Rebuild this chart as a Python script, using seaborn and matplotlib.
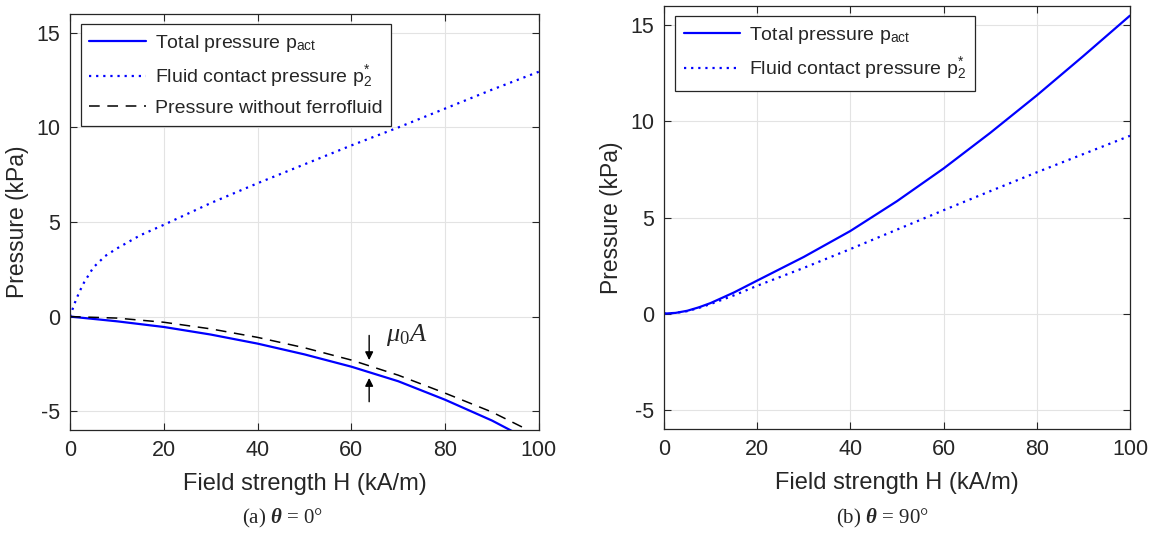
import matplotlib
matplotlib.use("Agg")
import matplotlib.pyplot as plt
import seaborn as sns
import pandas as pd

# ---- data ----
# Panel (a) theta = 0
h_a_fluid = [0, 1, 2, 3, 5, 7.5, 10, 15, 20, 30, 40, 50, 60, 70, 80, 90, 100]
p_a_fluid = [0, 0.7, 1.3, 1.8, 2.6, 3.2, 3.6, 4.3, 4.85, 6.0, 7.05, 8.05, 9.05, 10.0, 11.0, 12.0, 12.95]
h_a_total = [0, 10, 20, 30, 40, 50, 60, 70, 80, 90, 95]
p_a_total = [0, -0.25, -0.55, -0.95, -1.43, -2.0, -2.65, -3.42, -4.4, -5.5, -6.15]
h_a_noff = [0, 10, 20, 30, 40, 50, 60, 70, 80, 90, 97.7]
p_a_noff = [0, -0.08, -0.3, -0.65, -1.1, -1.65, -2.3, -3.1, -4.05, -5.05, -6.0]

# Panel (b) theta = 90
h_b = [0, 2.5, 5, 7.5, 10, 15, 20, 30, 40, 50, 60, 70, 80, 90, 100]
p_b_total = [0, 0.04, 0.15, 0.33, 0.55, 1.1, 1.72, 2.95, 4.3, 5.85, 7.55, 9.4, 11.35, 13.4, 15.5]
p_b_fluid = [0, 0.04, 0.13, 0.3, 0.5, 0.95, 1.45, 2.38, 3.36, 4.37, 5.38, 6.37, 7.35, 8.3, 9.25]

x_ticks = [0, 20, 40, 60, 80, 100]
y_ticks = [-5, 0, 5, 10, 15]
y_ticklabels = ["-5", "0", "5", "10", "15"]

lbl_total = r"Total pressure p$_{\mathsf{act}}$"
lbl_fluid = r"Fluid contact pressure p$_{\mathsf{2}}^{\mathsf{*}}$"
lbl_noff = "Pressure without ferrofluid"
caption_a = r"(a) $\mathbf{\theta}$ = 0°"
caption_b = r"(b) $\mathbf{\theta}$ = 90°"
annot_text = r"$\mu_0 A$"

# ---- style ----
sns.set_style("whitegrid")
plt.rcParams["font.family"] = ["Liberation Sans", "DejaVu Sans"]
plt.rcParams["mathtext.fontset"] = "custom"
plt.rcParams["mathtext.rm"] = "Liberation Serif"
plt.rcParams["mathtext.it"] = "Liberation Serif:italic"
plt.rcParams["mathtext.bf"] = "Liberation Serif:bold:italic"
plt.rcParams["mathtext.sf"] = "Liberation Sans"

BLUE = "#0000ff"
fig = plt.figure(figsize=(11.6, 5.33), dpi=100)
ax1 = fig.add_axes([0.0603, 0.1932, 0.4043, 0.7805])
ax2 = fig.add_axes([0.5724, 0.1951, 0.4017, 0.7936])

df_a_total = pd.DataFrame({"H": h_a_total, "p": p_a_total})
df_a_fluid = pd.DataFrame({"H": h_a_fluid, "p": p_a_fluid})
df_a_noff = pd.DataFrame({"H": h_a_noff, "p": p_a_noff})
df_b_total = pd.DataFrame({"H": h_b, "p": p_b_total})
df_b_fluid = pd.DataFrame({"H": h_b, "p": p_b_fluid})

sns.lineplot(data=df_a_total, x="H", y="p", ax=ax1, color=BLUE, lw=1.6, label=lbl_total)
sns.lineplot(data=df_a_fluid, x="H", y="p", ax=ax1, color=BLUE, lw=1.6, ls=(0, (1, 2.2)), label=lbl_fluid)
sns.lineplot(data=df_a_noff, x="H", y="p", ax=ax1, color="black", lw=1.1, ls=(0, (7, 5)), label=lbl_noff)

sns.lineplot(data=df_b_total, x="H", y="p", ax=ax2, color=BLUE, lw=1.6, label=lbl_total)
sns.lineplot(data=df_b_fluid, x="H", y="p", ax=ax2, color=BLUE, lw=1.6, ls=(0, (1, 2.2)), label=lbl_fluid)

for ax in (ax1, ax2):
    ax.set_xlim(0, 100)
    ax.set_ylim(-6, 16)
    ax.set_xticks(x_ticks)
    ax.set_yticks(y_ticks)
    ax.set_yticklabels(y_ticklabels)
    ax.set_xlabel("Field strength H (kA/m)", fontsize=17, labelpad=9)
    ax.set_ylabel("Pressure (kPa)", fontsize=16.5, labelpad=5)
    ax.tick_params(axis="both", which="both", direction="in", length=5, width=0.8,
                   labelsize=15.5, top=True, right=True, bottom=True, left=True,
                   color="#262626", pad=7)
    ax.grid(True, color="#e3e3e3", lw=0.8)
    for sp in ax.spines.values():
        sp.set_color("#262626")
        sp.set_linewidth(0.9)
        sp.set_visible(True)
    ax.set_facecolor("white")

leg_kw = dict(loc="upper left", borderaxespad=0, fontsize=14, frameon=True, fancybox=False,
              edgecolor="#262626", framealpha=1, handlelength=2.9, labelspacing=0.5,
              handletextpad=0.45, borderpad=0.45)
l1 = ax1.legend(bbox_to_anchor=(0.023, 0.976), **leg_kw)
l2 = ax2.legend(bbox_to_anchor=(0.0236, 0.976), **leg_kw)
for l in (l1, l2):
    l.get_frame().set_linewidth(0.9)

# annotation arrows
arrow_x = 63.8
ax1.annotate("", xy=(arrow_x, -2.45), xytext=(arrow_x, -0.85),
             arrowprops=dict(arrowstyle="-|>", color="black", lw=1.0, mutation_scale=12))
ax1.annotate("", xy=(arrow_x, -3.1), xytext=(arrow_x, -4.65),
             arrowprops=dict(arrowstyle="-|>", color="black", lw=1.0, mutation_scale=12))
ax1.text(71.8, -1.0, annot_text, fontsize=19, ha="center", va="center")

fig.text(283 / 1160, 1 - 518 / 533, caption_a, family="Liberation Serif", fontsize=15, ha="center", va="center")
fig.text(882 / 1160, 1 - 518 / 533, caption_b, family="Liberation Serif", fontsize=15, ha="center", va="center")

fig.savefig("out.png", dpi=100, facecolor="white")
